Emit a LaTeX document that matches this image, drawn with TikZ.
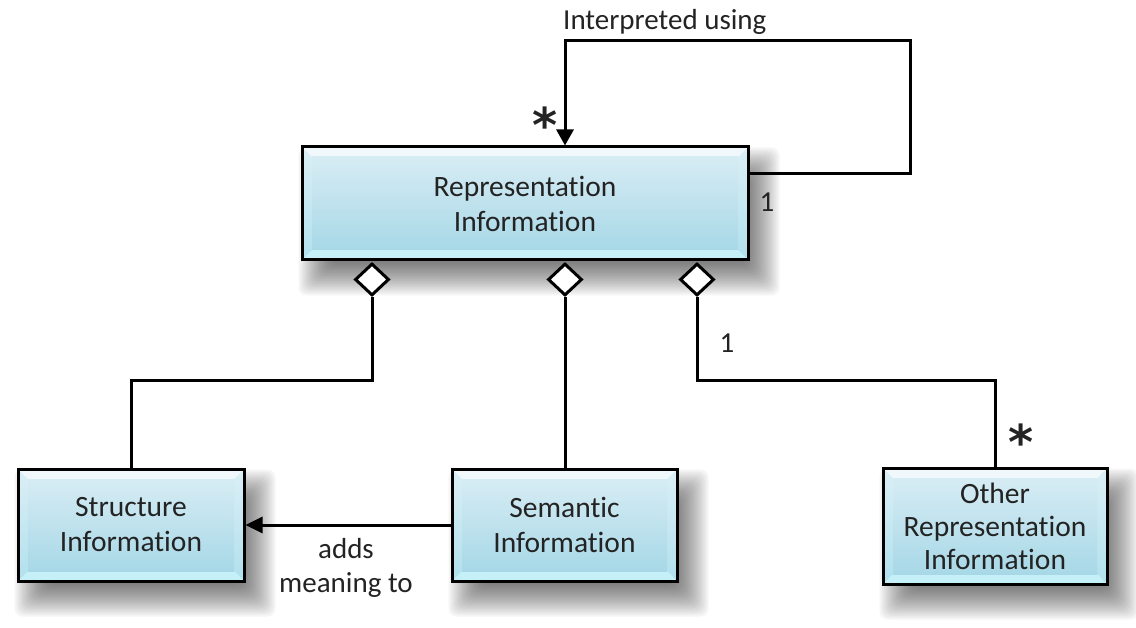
\documentclass[tikz,border=0pt]{standalone}
\usepackage{fontspec}
\setmainfont{Carlito}[Ligatures=NoCommon]
\newfontfamily\starfont{DejaVu Sans}
\usetikzlibrary{shapes.geometric,arrows.meta,backgrounds,calc}

\definecolor{bevtop}{RGB}{240,248,251}
\definecolor{bevbot}{RGB}{198,240,248}
\definecolor{sidetop}{RGB}{220,239,246}
\definecolor{sidebot}{RGB}{176,224,237}
\definecolor{intop}{RGB}{214,236,244}
\definecolor{inbot}{RGB}{168,216,231}
\definecolor{txt}{RGB}{35,35,35}

\tikzset{
  umlbox/.style={draw=black, line width=3pt, inner sep=0pt, align=center,
    font=\fontsize{29.5}{35}\selectfont, text=txt,
    path picture={
      \coordinate (pa) at (path picture bounding box.north west);
      \coordinate (pb) at (path picture bounding box.south east);
      \fill[top color=sidetop, bottom color=sidebot] (pa) rectangle (pb);
      \fill[bevtop] (pa) -- (pa -| pb) -- ($(pa -| pb)+(-10pt,-10pt)$) -- ($(pa)+(10pt,-10pt)$) -- cycle;
      \fill[bevbot] (pb -| pa) -- (pb) -- ($(pb)+(-10pt,10pt)$) -- ($(pb -| pa)+(10pt,10pt)$) -- cycle;
      \fill[top color=intop, bottom color=inbot] ($(pa)+(10pt,-10pt)$) rectangle ($(pb)+(-10pt,10pt)$);
    }},
  agg/.style={draw=black, line width=3pt, fill=white, shape=diamond, inner sep=0pt,
    minimum width=34pt, minimum height=32pt, anchor=north},
  conn/.style={draw=black, line width=3pt},
  lbl/.style={font=\fontsize{29}{34}\selectfont, text=txt, inner sep=0pt},
  star/.style={font=\starfont\fontsize{48}{48}\selectfont\bfseries, text=txt, inner sep=0pt, anchor=base},
}

\newcommand\softshadow[1]{%
  \begin{pgfonlayer}{background}
    \foreach \e in {0,2,...,32} {
      \fill[black, opacity=0.038, rounded corners=8pt]
        ($(#1.north west)+({30pt-\e pt},{\e pt-34pt})$) rectangle
        ($(#1.south east)+({\e pt-2pt},{-2pt-\e pt})$);
    }
  \end{pgfonlayer}}

\begin{document}
\begin{tikzpicture}[x=1pt, y=-1pt]
  \useasboundingbox (0,0) rectangle (1136,628);

  % boxes
  \node[umlbox, minimum width=446pt, minimum height=113pt] (rep) at (525,203.5) {Representation\\Information};
  \node[umlbox, minimum width=226pt, minimum height=112pt] (struct) at (131,525) {Structure\\Information};
  \node[umlbox, minimum width=225pt, minimum height=112pt] (sem) at (564.5,525) {Semantic\\Information};
  \node[umlbox, minimum width=224pt, minimum height=116pt, font=\fontsize{29.5}{33}\selectfont] (other) at (995,526) {Other\\Representation\\Information};

  \softshadow{rep}
  \softshadow{struct}
  \softshadow{sem}
  \softshadow{other}

  % aggregation diamonds
  \node[agg] (d1) at (372,262) {};
  \node[agg] (d2) at (565,262) {};
  \node[agg] (d3) at (697,262) {};

  % helper coordinates
  \coordinate (hy) at (0,381);
  \coordinate (ly) at (0,174);
  \coordinate (lr) at (910,41);
  \coordinate (lt) at (565,41);

  % connectors
  \draw[conn] (d1.south) -- (d1.south |- hy) -| (struct.north);
  \draw[conn] (d2.south) -- (d2.south |- sem.north);
  \draw[conn] (d3.south) -- (d3.south |- hy) -| (other.north);
  \draw[conn, -{Triangle[length=17pt, width=16pt]}] (sem.west) -- (struct.east);
  \draw[conn, -{Triangle[length=16pt, width=17pt]}] (rep.east |- ly) -| (lr) -- (lt) -- (lt |- rep.north);

  % labels
  \node[lbl, anchor=base west] (interp) at (563,30) {Interpreted using};
  \node[star] (st1) at (545,143) {*};
  \node[lbl, anchor=base] (one1) at (767,212) {1};
  \node[lbl, anchor=base] (one2) at (727,353) {1};
  \node[star] (st2) at (1021,459) {*};
  \node[lbl, anchor=base] (adds) at (346,558) {adds};
  \node[lbl, anchor=base] (mean) at (346,592) {meaning to};
\end{tikzpicture}
\end{document}
